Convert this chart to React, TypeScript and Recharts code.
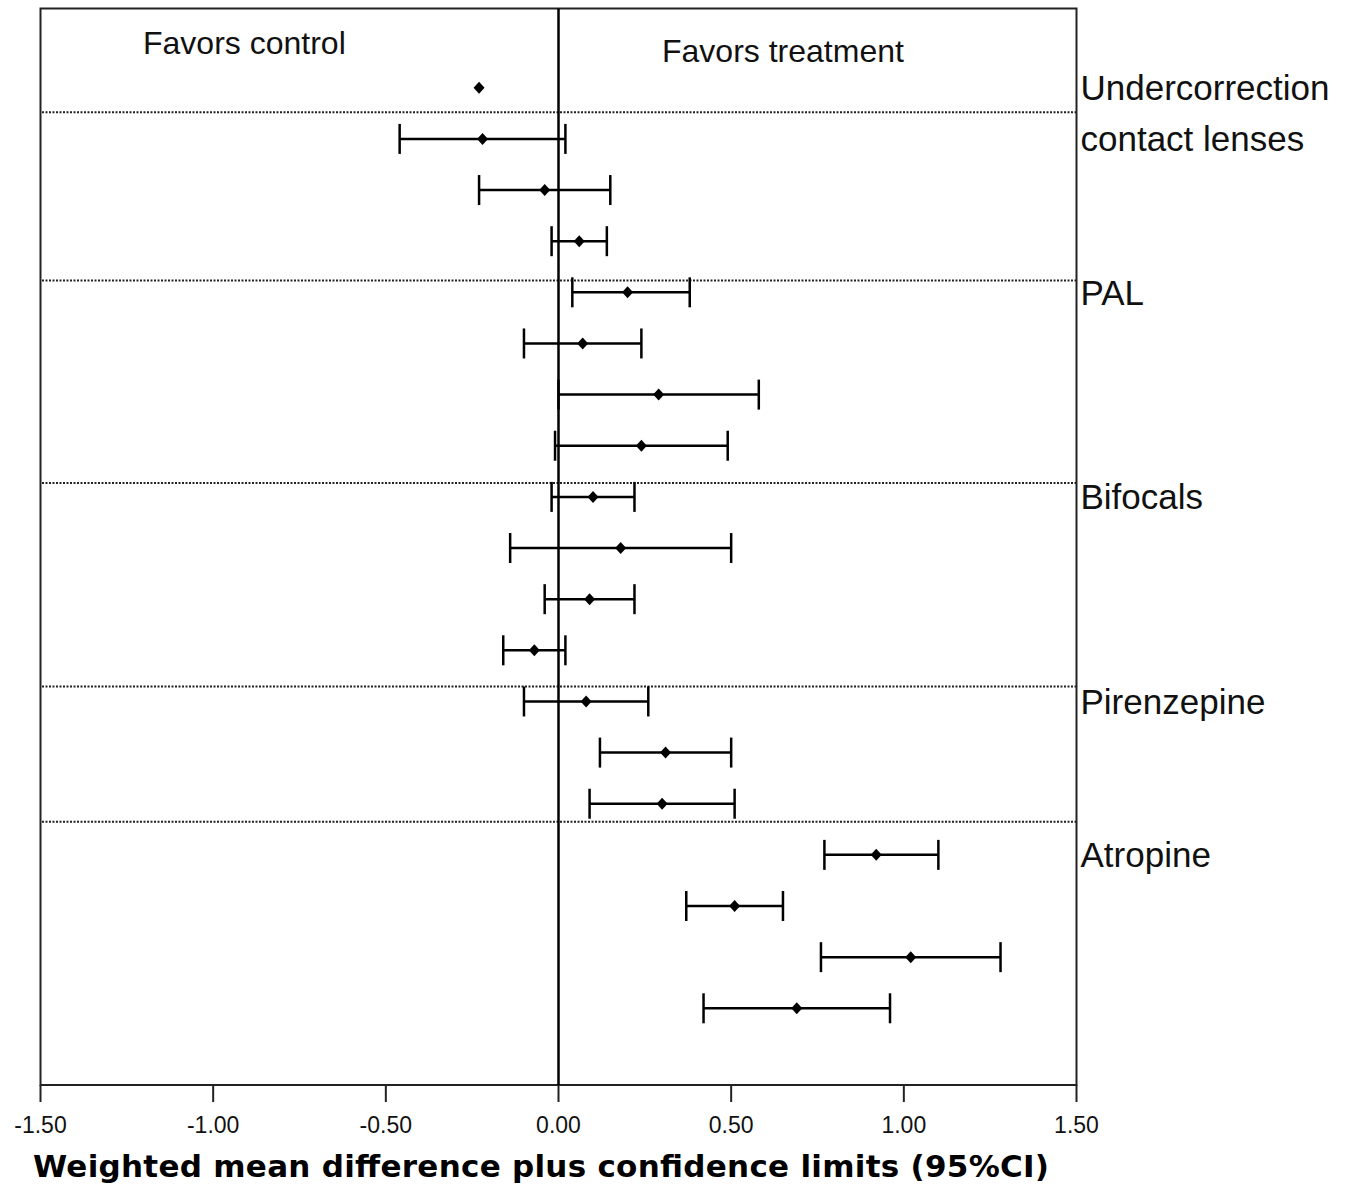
import { ComposedChart, Scatter, ErrorBar, XAxis, YAxis, ReferenceLine, ReferenceArea } from 'recharts'

// one row per study, counted from the top
const rowIndex = [1, 2, 3, 4, 5, 6, 7, 8, 9, 10, 11, 12, 13, 14, 15, 16, 17, 18, 19]
const means = [-0.23, -0.22, -0.04, 0.06, 0.2, 0.07, 0.29, 0.24, 0.1, 0.18, 0.09, -0.07, 0.08, 0.31, 0.3, 0.92, 0.51, 1.02, 0.69]
const lowerCI = [null, -0.46, -0.23, -0.02, 0.04, -0.1, 0.0, -0.01, -0.02, -0.14, -0.04, -0.16, -0.1, 0.12, 0.09, 0.77, 0.37, 0.76, 0.42]
const upperCI = [null, 0.02, 0.15, 0.14, 0.38, 0.24, 0.58, 0.49, 0.22, 0.5, 0.22, 0.02, 0.26, 0.5, 0.51, 1.1, 0.65, 1.28, 0.96]

// group names shown on the right, at the row where each group starts
const groupRows = [1, 2, 5, 9, 13, 16]
const groupLabels = ['Undercorrection', 'contact lenses', 'PAL', 'Bifocals', 'Pirenzepine', 'Atropine']

// dotted separators between groups (in row units)
const separatorRows = [1.48, 4.77, 8.73, 12.71, 15.35]

const xTicks = [-1.5, -1.0, -0.5, 0, 0.5, 1.0, 1.5]

const data = rowIndex.map((row, i) => {
  const lo = lowerCI[i]
  const hi = upperCI[i]
  return {
    row,
    mean: means[i],
    err: lo == null || hi == null ? null : [means[i] - lo, hi - means[i]],
  }
})

const font = '"Liberation Sans", Arial, sans-serif'

function Diamond(props: any) {
  const { cx, cy } = props
  if (cx == null || cy == null) return null
  const w = 5.5
  const h = 6
  return <polygon points={`${cx - w},${cy} ${cx},${cy - h} ${cx + w},${cy} ${cx},${cy + h}`} fill="#000" />
}

export default function App() {
  return (
    <div style={{ position: 'absolute', left: 0, top: 0, width: 1350, height: 1192, background: '#fff' }}>
      <ComposedChart width={1350} height={1192} data={data} margin={{ top: 8.5, left: 40.5, right: 0, bottom: 0 }}>
        <XAxis
          type="number"
          dataKey="mean"
          domain={[-1.5, 1.5]}
          ticks={xTicks}
          interval={0}
          allowDataOverflow
          height={107}
          axisLine={false}
          tickSize={17}
          tickMargin={15}
          tickLine={{ stroke: '#222', strokeWidth: 2 }}
          tickFormatter={(v: number) => v.toFixed(2)}
          tick={{ fontSize: 23, fill: '#111', fontFamily: font }}
        />
        <YAxis
          type="number"
          dataKey="row"
          orientation="right"
          reversed
          domain={[-0.55, 20.5]}
          allowDataOverflow
          ticks={groupRows}
          interval={0}
          width={273.5}
          axisLine={false}
          tickLine={false}
          tickSize={0}
          tickMargin={4}
          tickFormatter={(v: number) => groupLabels[groupRows.indexOf(v)] ?? ''}
          tick={{ fontSize: 35, fill: '#111', fontFamily: font }}
        />
        {separatorRows.map((r) => (
          <ReferenceLine key={r} y={r} stroke="#222" strokeWidth={2} strokeDasharray="2 1.5" />
        ))}
        <ReferenceLine x={0} stroke="#000" strokeWidth={2.5} />
        <ReferenceArea x1={-1.5} x2={1.5} y1={-0.55} y2={20.5} fill="none" stroke="#222" strokeWidth={2} />
        <Scatter dataKey="row" shape={Diamond} isAnimationActive={false}>
          <ErrorBar dataKey="err" direction="x" width={15} stroke="#000" strokeWidth={2.5} isAnimationActive={false} />
        </Scatter>
        <text x={143} y={54} fontSize={32} fill="#111" fontFamily={font}>Favors control</text>
        <text x={662} y={62} fontSize={32} fill="#111" fontFamily={font}>Favors treatment</text>
        <text x={33} y={1177} fontSize={31} fontWeight="bold" fill="#000" fontFamily='"DejaVu Sans", sans-serif' textLength={1016} lengthAdjust="spacing">
          Weighted mean difference plus confidence limits (95%CI)
        </text>
      </ComposedChart>
    </div>
  )
}
